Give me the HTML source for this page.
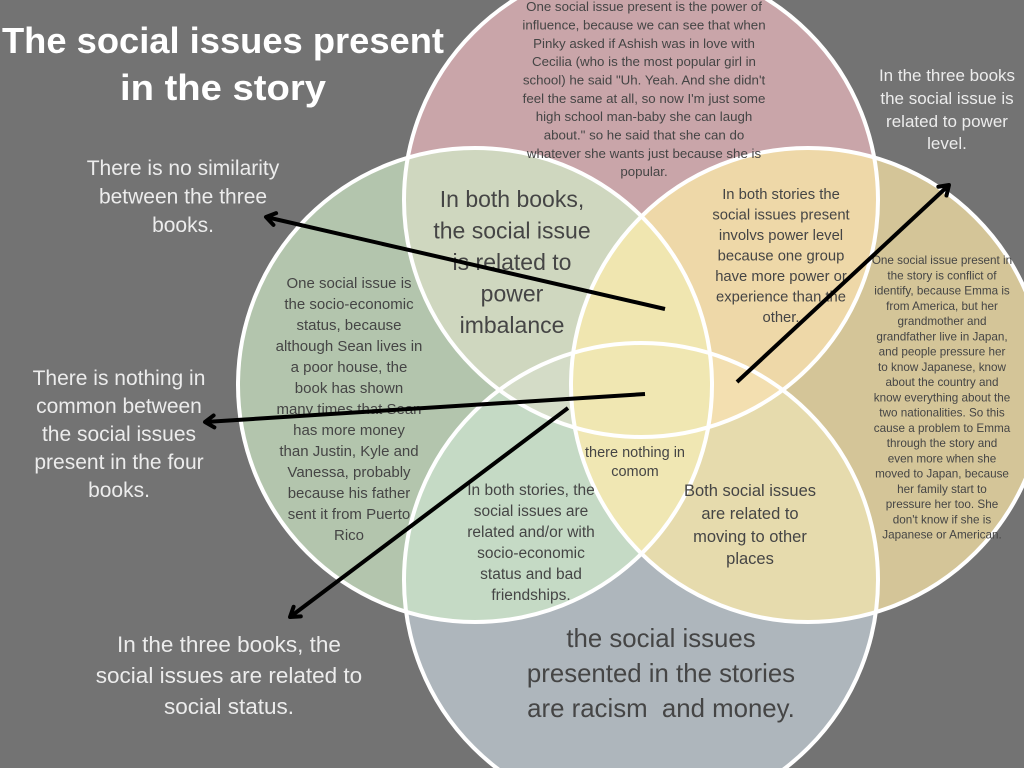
<!DOCTYPE html>
<html>
<head>
<meta charset="utf-8">
<style>
html,body{margin:0;padding:0;background:#737373;width:1024px;height:768px;overflow:hidden;}
svg{display:block;overflow:hidden;}
text{font-family:"Liberation Sans",sans-serif;}
.d{fill:#454545;}
.w{fill:#ececec;}
</style>
</head>
<body>
<svg width="1024" height="768" viewBox="0 0 1024 768" xmlns="http://www.w3.org/2000/svg">
<defs>
<clipPath id="frame"><rect x="0" y="0" width="1024" height="768"/></clipPath>
<clipPath id="cT"><circle cx="641" cy="200" r="237"/></clipPath>
<clipPath id="cL"><circle cx="475" cy="385" r="237"/></clipPath>
<clipPath id="cR"><circle cx="808" cy="385" r="237"/></clipPath>
<clipPath id="cB"><circle cx="641" cy="580" r="237"/></clipPath>
<marker id="ah" markerWidth="16" markerHeight="16" refX="12" refY="8" orient="auto" markerUnits="userSpaceOnUse" overflow="visible">
<path d="M3,2 L12,8 L3,14" fill="none" stroke="#000" stroke-width="4" stroke-linecap="round" stroke-linejoin="round"/>
</marker>
</defs>
<g clip-path="url(#frame)">
<rect width="1024" height="768" fill="#737373"/>

<!-- single circles -->
<circle cx="641" cy="200" r="237" fill="#c9a5a9"/>
<circle cx="475" cy="385" r="237" fill="#b3c5ad"/>
<circle cx="808" cy="385" r="237" fill="#d4c598"/>
<circle cx="641" cy="580" r="237" fill="#aeb6bc"/>

<!-- pairs -->
<g clip-path="url(#cT)"><circle cx="475" cy="385" r="237" fill="#cfd7bf"/></g>
<g clip-path="url(#cT)"><circle cx="808" cy="385" r="237" fill="#eed8a8"/></g>
<g clip-path="url(#cT)"><circle cx="641" cy="580" r="237" fill="#efe5b0"/></g>
<g clip-path="url(#cL)"><circle cx="808" cy="385" r="237" fill="#efe5b0"/></g>
<g clip-path="url(#cL)"><circle cx="641" cy="580" r="237" fill="#c5dac5"/></g>
<g clip-path="url(#cR)"><circle cx="641" cy="580" r="237" fill="#e6dbad"/></g>

<!-- triples -->
<g clip-path="url(#cT)"><g clip-path="url(#cL)"><circle cx="808" cy="385" r="237" fill="#f0e6b0"/></g></g>
<g clip-path="url(#cT)"><g clip-path="url(#cL)"><circle cx="641" cy="580" r="237" fill="#d4dcc7"/></g></g>
<g clip-path="url(#cT)"><g clip-path="url(#cR)"><circle cx="641" cy="580" r="237" fill="#f3dfb0"/></g></g>
<g clip-path="url(#cL)"><g clip-path="url(#cR)"><circle cx="641" cy="580" r="237" fill="#f0e7b3"/></g></g>
<!-- quad -->
<g clip-path="url(#cT)"><g clip-path="url(#cL)"><g clip-path="url(#cR)"><circle cx="641" cy="580" r="237" fill="#f0e7b2"/></g></g></g>

<!-- white outlines -->
<g fill="none" stroke="#ffffff" stroke-width="4">
<circle cx="641" cy="200" r="237"/>
<circle cx="475" cy="385" r="237"/>
<circle cx="808" cy="385" r="237"/>
<circle cx="641" cy="580" r="237"/>
</g>

<!-- Title -->
<g fill="#ffffff" font-weight="bold" font-size="36" text-anchor="middle">
<text x="223" y="53" textLength="442" lengthAdjust="spacingAndGlyphs">The social issues present</text>
<text x="223" y="100" textLength="206" lengthAdjust="spacingAndGlyphs">in the story</text>
</g>

<!-- Outside white texts -->
<g class="w" font-size="21" text-anchor="middle">
<text x="183" y="175">There is no similarity</text>
<text x="183" y="203.5">between the three</text>
<text x="183" y="232">books.</text>
</g>
<g class="w" font-size="21" text-anchor="middle">
<text x="119" y="385">There is nothing in</text>
<text x="119" y="413">common between</text>
<text x="119" y="441">the social issues</text>
<text x="119" y="469">present in the four</text>
<text x="119" y="497">books.</text>
</g>
<g class="w" font-size="22.5" text-anchor="middle">
<text x="229" y="652">In the three books, the</text>
<text x="229" y="683">social issues are related to</text>
<text x="229" y="714">social status.</text>
</g>
<g class="w" font-size="17" text-anchor="middle">
<text x="947" y="81">In the three books</text>
<text x="947" y="104">the social issue is</text>
<text x="947" y="127">related to power</text>
<text x="947" y="149">level.</text>
</g>

<!-- Top circle text -->
<g class="d" font-size="13.3" text-anchor="middle">
<text x="644" y="11">One social issue present is the power of</text>
<text x="644" y="29.5">influence, because we can see that when</text>
<text x="644" y="48">Pinky asked if Ashish was in love with</text>
<text x="644" y="66">Cecilia (who is the most popular girl in</text>
<text x="644" y="84.5">school) he said "Uh. Yeah. And she didn't</text>
<text x="644" y="103">feel the same at all, so now I'm just some</text>
<text x="644" y="121">high school man-baby she can laugh</text>
<text x="644" y="139.5">about." so he said that she can do</text>
<text x="644" y="158">whatever she wants just because she is</text>
<text x="644" y="176">popular.</text>
</g>

<!-- TL text -->
<g class="d" font-size="23" text-anchor="middle">
<text x="512" y="207">In both books,</text>
<text x="512" y="238.5">the social issue</text>
<text x="512" y="270">is related to</text>
<text x="512" y="301.5">power</text>
<text x="512" y="333">imbalance</text>
</g>

<!-- TR text -->
<g class="d" font-size="14.8" text-anchor="middle">
<text x="781" y="199">In both stories the</text>
<text x="781" y="219.5">social issues present</text>
<text x="781" y="240">involvs power level</text>
<text x="781" y="260.5">because one group</text>
<text x="781" y="281">have more power or</text>
<text x="781" y="301.5">experience than the</text>
<text x="781" y="322">other.</text>
</g>

<!-- Left circle text -->
<g class="d" font-size="15" text-anchor="middle">
<text x="349" y="288">One social issue is</text>
<text x="349" y="309">the socio-economic</text>
<text x="349" y="330">status, because</text>
<text x="349" y="351">although Sean lives in</text>
<text x="349" y="372">a poor house, the</text>
<text x="349" y="393">book has shown</text>
<text x="349" y="414">many times that Sean</text>
<text x="349" y="435">has more money</text>
<text x="349" y="456">than Justin, Kyle and</text>
<text x="349" y="477">Vanessa, probably</text>
<text x="349" y="498">because his father</text>
<text x="349" y="519">sent it from Puerto</text>
<text x="349" y="540">Rico</text>
</g>

<!-- Right circle text -->
<g class="d" font-size="11.7" text-anchor="middle">
<text x="942" y="264">One social issue present in</text>
<text x="942" y="279.25">the story is conflict of</text>
<text x="942" y="294.5">identify, because Emma is</text>
<text x="942" y="309.75">from America, but her</text>
<text x="942" y="325">grandmother and</text>
<text x="942" y="340.25">grandfather live in Japan,</text>
<text x="942" y="355.5">and people pressure her</text>
<text x="942" y="370.75">to know Japanese, know</text>
<text x="942" y="386">about the country and</text>
<text x="942" y="401.25">know everything about the</text>
<text x="942" y="416.5">two nationalities. So this</text>
<text x="942" y="431.75">cause a problem to Emma</text>
<text x="942" y="447">through the story and</text>
<text x="942" y="462.25">even more when she</text>
<text x="942" y="477.5">moved to Japan, because</text>
<text x="942" y="492.75">her family start to</text>
<text x="942" y="508">pressure her too. She</text>
<text x="942" y="523.25">don't know if she is</text>
<text x="942" y="538.5">Japanese or American.</text>
</g>

<!-- LB text -->
<g class="d" font-size="15.5" text-anchor="middle">
<text x="531" y="495">In both stories, the</text>
<text x="531" y="516">social issues are</text>
<text x="531" y="537">related and/or with</text>
<text x="531" y="558">socio-economic</text>
<text x="531" y="579">status and bad</text>
<text x="531" y="600">friendships.</text>
</g>

<!-- Center text -->
<g class="d" font-size="14.5" text-anchor="middle">
<text x="635" y="457">there nothing in</text>
<text x="635" y="476">comom</text>
</g>

<!-- RB text -->
<g class="d" font-size="16.5" text-anchor="middle">
<text x="750" y="496">Both social issues</text>
<text x="750" y="519">are related to</text>
<text x="750" y="542">moving to other</text>
<text x="750" y="564">places</text>
</g>

<!-- Bottom text -->
<g class="d" font-size="25.8" text-anchor="middle">
<text x="661" y="647">the social issues</text>
<text x="661" y="682">presented in the stories</text>
<text x="661" y="717">are racism&#160; and money.</text>
</g>

<!-- Arrows -->
<g stroke="#000" stroke-width="4" fill="none" stroke-linecap="butt">
<line x1="665" y1="309" x2="266" y2="217" marker-end="url(#ah)"/>
<line x1="645" y1="394" x2="205" y2="422" marker-end="url(#ah)"/>
<line x1="568" y1="408" x2="290" y2="617" marker-end="url(#ah)"/>
<line x1="737" y1="382" x2="949" y2="185" marker-end="url(#ah)"/>
</g>
</g>
</svg>
</body>
</html>
